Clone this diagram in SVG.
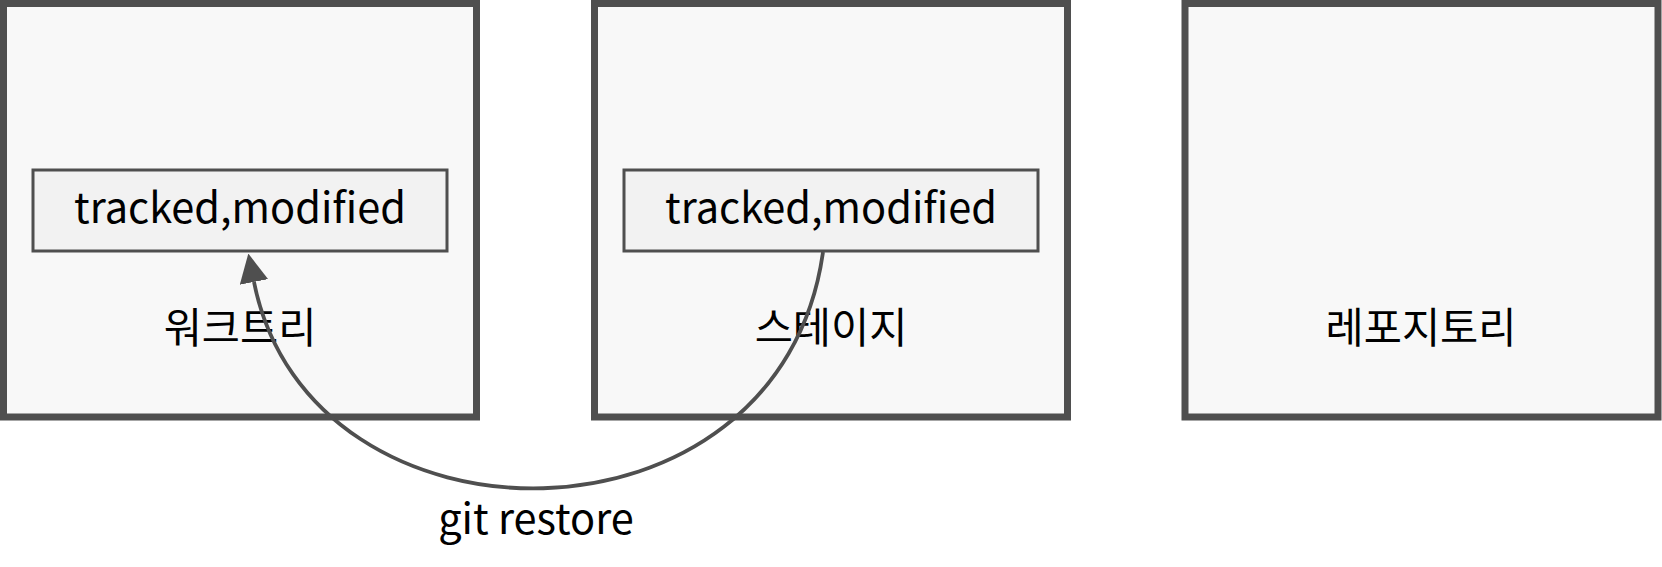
<svg xmlns="http://www.w3.org/2000/svg" width="1662" height="567" viewBox="0 0 1662 567">
<style>
.outer{fill:#f8f8f8;stroke:#4f4f4f;stroke-width:7}
.inner{fill:#f2f2f2;stroke:#4f4f4f;stroke-width:3}
.t{font-family:"Noto Sans CJK KR","Noto Sans",sans-serif;font-size:41.5px;fill:#000;text-anchor:middle}
.edge{fill:none;stroke:#4f4f4f;stroke-width:3.8}
</style>
<defs>
<marker id="ah" markerUnits="userSpaceOnUse" viewBox="0 0 29 29" refX="0" refY="14.5" markerWidth="29" markerHeight="29" orient="auto">
<path d="M0,0 L29,14.5 L0,29 z" fill="#4f4f4f"/>
</marker>
</defs>
<g id="worktree">
<rect class="outer" x="3.5" y="3.5" width="473" height="413.5"/>
<text class="t" x="240" y="343">워크트리</text>
</g>
<g id="stage">
<rect class="outer" x="594.5" y="3.5" width="473" height="413.5"/>
<text class="t" x="831" y="343">스테이지</text>
</g>
<g id="repo">
<rect class="outer" x="1185" y="3.5" width="473" height="413.5"/>
<text class="t" x="1421" y="343">레포지토리</text>
</g>
<g id="wt_file">
<rect class="inner" x="33" y="170" width="414" height="81"/>
<text class="t" x="240" y="223">tracked,modified</text>
</g>
<g id="st_file">
<rect class="inner" x="624" y="170" width="414" height="81"/>
<text class="t" x="831" y="223">tracked,modified</text>
</g>
<g id="edges">
<path class="edge" d="M823,252 C780,562 310,562 254,282" marker-end="url(#ah)"/>
<text class="t" x="536" y="534">git restore</text>
</g>
</svg>
